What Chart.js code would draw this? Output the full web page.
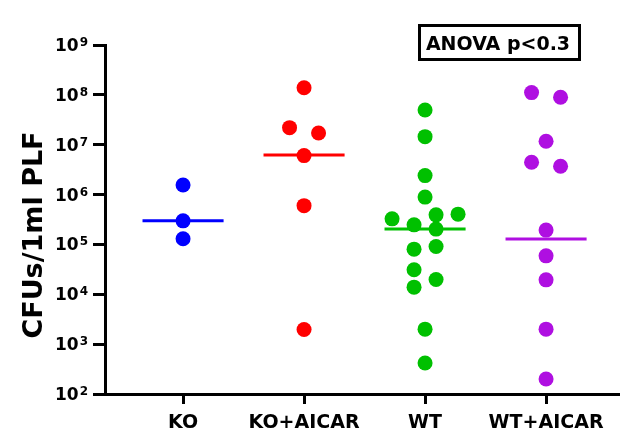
<!DOCTYPE html>
<html>
<head>
<meta charset="utf-8">
<script src="https://cdn.jsdelivr.net/npm/chart.js@4"></script>
<style>
  html, body { margin: 0; padding: 0; background: #fff; }
  #wrap { width: 620px; height: 428px; position: relative; }
</style>
</head>
<body>
<div id="wrap"><canvas id="cfuChart"></canvas></div>
<script>
// values (CFUs per 1 ml PLF), in data order
const groups = ['KO', 'KO+AICAR', 'WT', 'WT+AICAR'];
const koValues = [1.56e6, 2.97e5, 1.30e5];
const koAicarValues = [1.39e8, 2.2e7, 1.72e7, 6.05e6, 6.0e5, 1.97e3];
const wtValues = [4.98e7, 1.45e7, 2.4e6, 8.9e5, 3.26e5, 2.47e5, 3.92e5, 4.05e5, 2.03e5,
                  8.05e4, 9.08e4, 3.1e4, 1.98e4, 1.39e4, 2.0e3, 418];
const wtAicarValues = [1.11e8, 8.95e7, 1.17e7, 4.46e6, 3.71e6, 1.94e5, 5.9e4, 1.95e4, 2.0e3, 200];
const medianValues = [2.97e5, 6.2e6, 2.03e5, 1.28e5];
const yExponents = [2, 3, 4, 5, 6, 7, 8, 9];

const groupValues = [koValues, koAicarValues, wtValues, wtAicarValues];
const groupColors = ['#0000FF', '#FF0000', '#00C000', '#AF0FE1'];
const FONT = 'DejaVu Sans';

const pointSets = groupValues.map((values, i) => ({
    data: values.map(v => ({ x: i, y: v })),
    pointRadius: 7.5,
    pointHoverRadius: 7.5,
    pointBorderWidth: 0,
    pointBackgroundColor: groupColors[i],
    borderColor: groupColors[i],
    showLine: false
}));

const medianSets = medianValues.map((m, i) => ({
    data: [{ x: i - 0.335, y: m }, { x: i + 0.335, y: m }],
    showLine: true,
    pointRadius: 0,
    borderWidth: 3,
    borderColor: groupColors[i]
}));

// y tick labels with real superscripts, axis title and the ANOVA box
const extraText = {
    id: 'extraText',
    afterDraw(chart) {
        const ctx = chart.ctx;
        const ys = chart.scales.y;
        ctx.save();
        ctx.fillStyle = '#000';
        ctx.textBaseline = 'alphabetic';
        ctx.textAlign = 'right';
        yExponents.forEach(e => {
            const y = ys.getPixelForValue(Math.pow(10, e));
            ctx.font = `bold 12px "${FONT}"`;
            const supW = ctx.measureText(String(e)).width;
            ctx.fillText(String(e), 88, y + 1);
            ctx.font = `bold 17px "${FONT}"`;
            ctx.fillText('10', 88 - supW - 1, y + 6);
        });

        ctx.save();
        ctx.translate(42, 235);
        ctx.rotate(-Math.PI / 2);
        ctx.textAlign = 'center';
        ctx.font = `bold 27px "${FONT}"`;
        ctx.fillText('CFUs/1ml PLF', 0, 0);
        ctx.restore();

        ctx.strokeStyle = '#000';
        ctx.lineWidth = 3;
        ctx.strokeRect(419.5, 25.5, 160, 34);
        ctx.textAlign = 'center';
        ctx.font = `bold 19px "${FONT}"`;
        ctx.fillText('ANOVA p<0.3', 498, 50);
        ctx.restore();
    }
};

const chart = new Chart(document.getElementById('cfuChart'), {
    type: 'scatter',
    data: { datasets: [...medianSets, ...pointSets] },
    options: {
        responsive: true,
        maintainAspectRatio: false,
        animation: false,
        layout: { padding: { top: 45, right: 0, bottom: 0, left: 0 }, autoPadding: false },
        plugins: { legend: { display: false }, tooltip: { enabled: false } },
        scales: {
            x: {
                type: 'linear',
                min: -0.645,
                max: 3.611,
                afterBuildTicks: s => { s.ticks = groups.map((g, i) => ({ value: i })); },
                afterFit: s => { s.height = 34; },
                ticks: {
                    callback: v => groups[v],
                    color: '#000',
                    font: { family: FONT, weight: 'bold', size: 19 },
                    padding: 8,
                    autoSkip: false,
                    maxRotation: 0
                },
                grid: { drawOnChartArea: false, drawTicks: true, tickLength: 10, tickWidth: 3, tickColor: '#000', color: '#000' },
                border: { color: '#000', width: 3 }
            },
            y: {
                type: 'logarithmic',
                min: 100,
                max: 1e9,
                afterBuildTicks: s => { s.ticks = yExponents.map(e => ({ value: Math.pow(10, e), major: true })); },
                afterFit: s => { s.width = 105; },
                ticks: { display: false },
                grid: { drawOnChartArea: false, drawTicks: true, tickLength: 12, tickWidth: 3, tickColor: '#000', color: '#000' },
                border: { color: '#000', width: 3 }
            }
        }
    },
    plugins: [extraText]
});

// spread overlapping points sideways in rows, like a column scatter
function spreadPoints() {
    const xs = chart.scales.x, ys = chart.scales.y;
    const unit = xs.getPixelForValue(1) - xs.getPixelForValue(0);
    const diam = 15;
    groupValues.forEach((values, i) => {
        const pts = values.map((v, k) => ({ k, py: ys.getPixelForValue(v), px: 0 }));
        pts.sort((a, b) => a.py - b.py);
        const rows = [];
        pts.forEach(p => {
            const row = rows[rows.length - 1];
            if (row && p.py - row[0].py < diam - 0.5) row.push(p);
            else rows.push([p]);
        });
        rows.forEach(row => row.sort((a, b) => a.k - b.k));
        const widest = Math.max(...rows.map(r => r.length));
        const step = widest > 2 ? 66 / (widest - 1) : 29;
        const placed = [];
        rows.forEach(row => {
            const n = row.length;
            const offs = row.map((p, j) => (j - (n - 1) / 2) * step);
            const hits = shift => row.some((p, j) =>
                placed.some(q => Math.hypot(offs[j] + shift - q.px, p.py - q.py) < diam - 1));
            let shift = 0;
            if (hits(0)) {
                if (!hits(-step / 2)) shift = -step / 2;
                else if (!hits(step / 2)) shift = step / 2;
            }
            row.forEach((p, j) => { p.px = offs[j] + shift; placed.push(p); });
        });
        const ds = chart.data.datasets[medianSets.length + i];
        pts.forEach(p => { ds.data[p.k].x = i + p.px / unit; });
    });
    chart.update('none');
}
spreadPoints();
</script>
</body>
</html>
